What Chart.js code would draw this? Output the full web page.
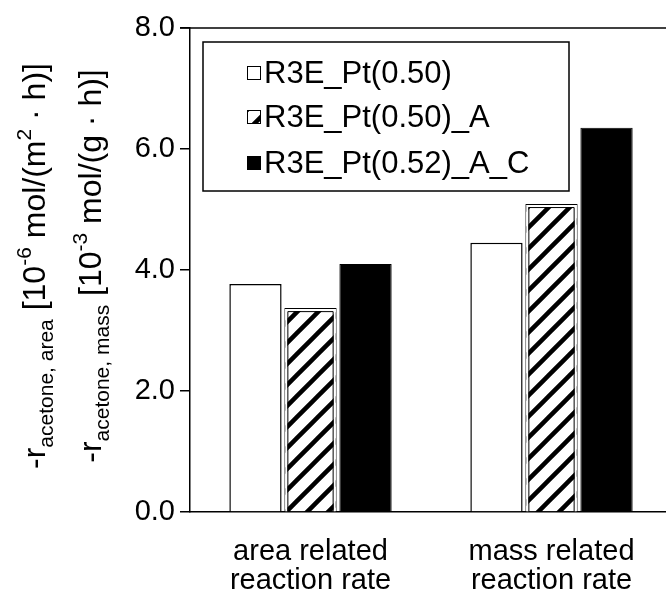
<!DOCTYPE html>
<html>
<head>
<meta charset="utf-8">
<script src="https://cdn.jsdelivr.net/npm/chart.js@4"></script>
<style>
  html, body { margin: 0; padding: 0; background: #fff; overflow: hidden; }
  #wrap { position: absolute; left: 0; top: 0; width: 680px; height: 592px; }
</style>
</head>
<body>
<div id="wrap"><canvas id="rateChart"></canvas></div>
<script>
const categories = [['area related', 'reaction rate'], ['mass related', 'reaction rate']];
const seriesNames = ['R3E_Pt(0.50)', 'R3E_Pt(0.50)_A', 'R3E_Pt(0.52)_A_C'];
const ptValues = [3.77, 4.45];
const ptAValues = [3.37, 5.09];
const ptACValues = [4.10, 6.35];
const yTicks = [0, 2, 4, 6, 8];

const FONT = '"Liberation Sans", Arial, sans-serif';

// diagonal "/" hatch used for the _A catalyst
function makeHatch() {
  const p = 21;
  const c = document.createElement('canvas');
  c.width = p; c.height = p;
  const g = c.getContext('2d');
  g.fillStyle = '#fff';
  g.fillRect(0, 0, p, p);
  g.strokeStyle = '#000';
  g.lineWidth = 4.5;
  g.beginPath();
  g.moveTo(-p, p); g.lineTo(p, -p);
  g.moveTo(0, 2 * p); g.lineTo(2 * p, 0);
  g.moveTo(0, p); g.lineTo(p, 0);
  g.stroke();
  return g.createPattern(c, 'repeat');
}
const hatch = makeHatch();

// y-axis title: two rotated lines with sub/superscripts
const titleLines = [
  { x: 45, parts: [['-r', 0], ['acetone, area', 1], [' [10', 0], ['-6', 2], [' mol/(m', 0], ['2', 2], [' \u00b7 h)]', 0]] },
  { x: 101, parts: [['-r', 0], ['acetone, mass', 1], [' [10', 0], ['-3', 2], [' mol/(g \u00b7 h)]', 0]] }
];

const yTitlePlugin = {
  id: 'yTitle',
  afterDraw(chart) {
    const ctx = chart.ctx;
    const cy = 266;
    const big = '32px ' + FONT, small = '21px ' + FONT;
    titleLines.forEach(line => {
      let total = 0;
      line.parts.forEach(([t, k]) => { ctx.font = k ? small : big; total += ctx.measureText(t).width; });
      ctx.save();
      ctx.translate(line.x, cy + total / 2);
      ctx.rotate(-Math.PI / 2);
      ctx.fillStyle = '#000';
      ctx.textBaseline = 'alphabetic';
      let pos = 0;
      line.parts.forEach(([t, k]) => {
        ctx.font = k ? small : big;
        const dy = k === 1 ? 8 : (k === 2 ? -14 : 0);
        ctx.fillText(t, pos, dy);
        pos += ctx.measureText(t).width;
      });
      ctx.restore();
    });
  }
};

// top frame line, inner outline of hatched bars, boxed legend
const framePlugin = {
  id: 'frame',
  afterDatasetsDraw(chart) {
    const ctx = chart.ctx;
    const meta = chart.getDatasetMeta(1);
    meta.data.forEach(bar => {
      const { x, y, base, width } = bar.getProps(['x', 'y', 'base', 'width'], true);
      const l = x - width / 2, r = x + width / 2;
      const outline = (inset) => {
        ctx.beginPath();
        ctx.moveTo(l + inset, base);
        ctx.lineTo(l + inset, y + inset);
        ctx.lineTo(r - inset, y + inset);
        ctx.lineTo(r - inset, base);
        ctx.stroke();
      };
      ctx.save();
      ctx.strokeStyle = '#fff';
      ctx.lineWidth = 2;
      outline(2);
      ctx.strokeStyle = '#000';
      ctx.lineWidth = 1;
      outline(3.5);
      ctx.restore();
    });
  },
  afterDraw(chart) {
    const ctx = chart.ctx;
    const area = chart.chartArea;
    ctx.save();
    ctx.strokeStyle = '#000';
    ctx.lineWidth = 1.5;
    ctx.beginPath();
    ctx.moveTo(area.left - 10, area.top);
    ctx.lineTo(chart.width, area.top);
    ctx.stroke();

    // legend
    ctx.fillStyle = '#fff';
    ctx.fillRect(203, 42, 366, 149);
    ctx.strokeRect(203, 42, 366, 149);
    const rows = [73, 117, 163];
    ctx.font = '31px ' + FONT;
    ctx.textBaseline = 'middle';
    chart.data.datasets.forEach((ds, i) => {
      const sy = rows[i] - 7;
      ctx.fillStyle = ds.backgroundColor;
      ctx.fillRect(247, sy, 14, 14);
      ctx.lineWidth = 1;
      ctx.strokeStyle = '#000';
      ctx.strokeRect(247.5, sy + 0.5, 13, 13);
      ctx.fillStyle = '#000';
      ctx.fillText(ds.label, 264, rows[i] + 1);
    });
    ctx.restore();
  }
};

new Chart(document.getElementById('rateChart'), {
  type: 'bar',
  data: {
    labels: categories,
    datasets: [
      { label: seriesNames[0], data: ptValues, backgroundColor: '#fff', borderColor: '#000', borderWidth: 1.5 },
      { label: seriesNames[1], data: ptAValues, backgroundColor: hatch, borderColor: '#000', borderWidth: 1 },
      { label: seriesNames[2], data: ptACValues, backgroundColor: '#000', borderColor: '#000', borderWidth: 1 }
    ]
  },
  options: {
    responsive: true,
    maintainAspectRatio: false,
    animation: false,
    events: [],
    categoryPercentage: 0.685,
    barPercentage: 0.95,
    layout: { padding: { left: 0, top: 28, right: 8, bottom: 0 } },
    plugins: { legend: { display: false }, tooltip: { enabled: false } },
    scales: {
      x: {
        grid: { display: false },
        border: { display: true, color: '#000', width: 1.5 },
        ticks: { color: '#000', font: { family: FONT, size: 29, lineHeight: 1.0 }, padding: 17, maxRotation: 0 },
        afterFit(scale) { scale.height = 80; }
      },
      y: {
        min: 0,
        max: 8,
        afterBuildTicks(scale) { scale.ticks = yTicks.map(v => ({ value: v })); },
        grid: { drawOnChartArea: false, drawTicks: true, tickLength: 10, color: '#000', lineWidth: 1.5 },
        border: { display: true, color: '#000', width: 1.5 },
        ticks: { color: '#000', font: { family: FONT, size: 29 }, padding: 5, callback: v => v.toFixed(1) },
        afterFit(scale) { scale.width = 190; }
      }
    }
  },
  plugins: [yTitlePlugin, framePlugin]
});
</script>
</body>
</html>
